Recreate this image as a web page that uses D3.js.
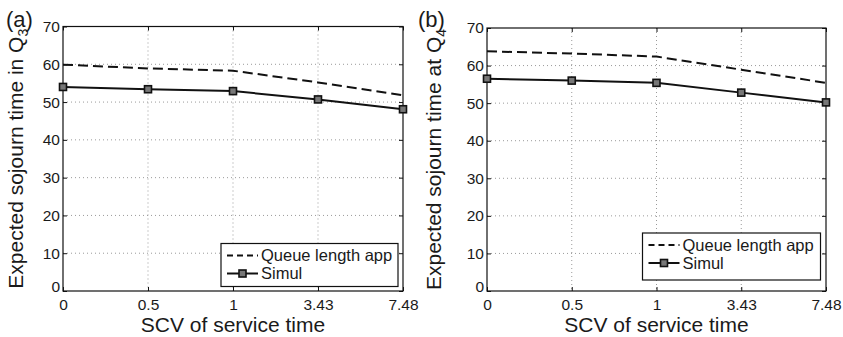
<!DOCTYPE html>
<html>
<head>
<meta charset="utf-8">
<script src="https://cdn.jsdelivr.net/npm/d3@7"></script>
<style>
  body { margin: 0; background: #fff; }
  svg { font-family: "Liberation Sans", Arial, Helvetica, sans-serif; display: block; }
  .grid line { stroke: #9a9a9a; stroke-dasharray: 1,3; stroke-width: 1; }
  .axis path { display: none; }
  .axis line { stroke: #111; }
</style>
</head>
<body>
<div id="chart"></div>
<script>
// categories on x axis (SCV of service time)
const scvLabels = ['0', '0.5', '1', '3.43', '7.48'];
const yTicks = [0, 10, 20, 30, 40, 50, 60, 70];

// panel (a): Q3
const approxA = [59.9, 58.9, 58.3, 55.2, 51.8];
const simulA = [54.0, 53.4, 52.9, 50.7, 48.1];

// panel (b): Q4
const approxB = [63.8, 63.2, 62.4, 58.9, 55.4];
const simulB = [56.5, 56.0, 55.4, 52.8, 50.2];

const seriesNames = ['Queue length app', 'Simul'];

const width = 843, height = 337;
const FONT = '"Liberation Sans", Arial, Helvetica, sans-serif';

const svg = d3.select('#chart').append('svg')
  .attr('width', width)
  .attr('height', height);

// d3 axis puts its own font on the group, take ours instead
function styleAxis(sel) {
  sel.attr('font-family', FONT).attr('font-size', 15.5);
  sel.selectAll('text').attr('fill', '#1a1a1a');
}

function drawPanel(opt) {
  const {left, right, top, bottom} = opt;

  const x = d3.scalePoint().domain(scvLabels).range([left, right]).padding(0);
  const y = d3.scaleLinear().domain([0, 70]).range([bottom, top]);

  const g = svg.append('g');

  // dotted grid
  const grid = g.append('g').attr('class', 'grid');
  grid.selectAll('.gx')
    .data(scvLabels.slice(1, -1))
    .enter().append('line')
    .attr('x1', d => x(d)).attr('x2', d => x(d))
    .attr('y1', top).attr('y2', bottom);
  grid.selectAll('.gy')
    .data(yTicks.slice(1, -1))
    .enter().append('line')
    .attr('x1', left).attr('x2', right)
    .attr('y1', d => y(d)).attr('y2', d => y(d));

  // axes, ticks inside
  g.append('g')
    .attr('class', 'axis')
    .attr('transform', `translate(0,${bottom})`)
    .call(d3.axisBottom(x).tickSize(-4).tickPadding(7.5))
    .call(styleAxis);
  g.append('g')
    .attr('class', 'axis')
    .attr('transform', `translate(0,${top})`)
    .call(d3.axisTop(x).tickSize(-4).tickFormat(''));
  const yAx = g.append('g')
    .attr('class', 'axis')
    .attr('transform', `translate(${left},0)`)
    .call(d3.axisLeft(y).tickValues(yTicks).tickSize(-4).tickPadding(3))
    .call(styleAxis);
  // matlab nudges the 0 label up a bit
  yAx.selectAll('.tick text').filter(d => d === 0).attr('dy', '0.05em');
  g.append('g')
    .attr('class', 'axis')
    .attr('transform', `translate(${right},0)`)
    .call(d3.axisRight(y).tickValues(yTicks).tickSize(-4).tickFormat(''));

  // box
  g.append('rect')
    .attr('x', left).attr('y', top)
    .attr('width', right - left).attr('height', bottom - top)
    .attr('fill', 'none').attr('stroke', '#111').attr('stroke-width', 1.2);

  const line = d3.line().x((d, i) => x(scvLabels[i])).y(d => y(d));

  g.append('path')
    .datum(opt.approx)
    .attr('d', line)
    .attr('fill', 'none')
    .attr('stroke', '#111')
    .attr('stroke-width', 2)
    .attr('stroke-dasharray', '10,5');

  g.append('path')
    .datum(opt.simul)
    .attr('d', line)
    .attr('fill', 'none')
    .attr('stroke', '#111')
    .attr('stroke-width', 2);

  g.selectAll('.mk')
    .data(opt.simul)
    .enter().append('rect')
    .attr('x', (d, i) => x(scvLabels[i]) - 3.5)
    .attr('y', d => y(d) - 3.5)
    .attr('width', 7).attr('height', 7)
    .attr('fill', '#777')
    .attr('stroke', '#111')
    .attr('stroke-width', 1.6);

  // axis labels
  g.append('text')
    .attr('x', (left + right) / 2)
    .attr('y', 332)
    .attr('text-anchor', 'middle')
    .attr('font-size', 21)
    .attr('fill', '#1a1a1a')
    .text('SCV of service time');

  const yl = g.append('text')
    .attr('transform', `translate(${opt.ylabX},${(top + bottom) / 2}) rotate(-90)`)
    .attr('text-anchor', 'middle')
    .attr('font-size', 21)
    .attr('fill', '#1a1a1a');
  yl.append('tspan').text(opt.ylabel);
  yl.append('tspan').attr('font-size', 14).attr('dy', 5).text(opt.sub);

  g.append('text')
    .attr('x', opt.tagX)
    .attr('y', 27)
    .attr('font-size', 22)
    .attr('fill', '#1a1a1a')
    .text(opt.tag);

  // legend
  const lg = g.append('g');
  const L = opt.legend;
  lg.append('rect')
    .attr('x', L.x).attr('y', L.y)
    .attr('width', L.w).attr('height', L.h)
    .attr('fill', '#fff').attr('stroke', '#111').attr('stroke-width', 1.2);
  const rowY = [L.y + 12, L.y + 30];
  lg.append('line')
    .attr('x1', L.x + 6).attr('x2', L.x + 37)
    .attr('y1', rowY[0]).attr('y2', rowY[0])
    .attr('stroke', '#111').attr('stroke-width', 2).attr('stroke-dasharray', '6,4');
  lg.append('line')
    .attr('x1', L.x + 6).attr('x2', L.x + 37)
    .attr('y1', rowY[1]).attr('y2', rowY[1])
    .attr('stroke', '#111').attr('stroke-width', 2);
  lg.append('rect')
    .attr('x', L.x + 21.5 - 3.5).attr('y', rowY[1] - 3.5)
    .attr('width', 7).attr('height', 7)
    .attr('fill', '#777').attr('stroke', '#111').attr('stroke-width', 1.6);
  lg.selectAll('.lt')
    .data(seriesNames)
    .enter().append('text')
    .attr('x', L.x + 40)
    .attr('y', (d, i) => rowY[i])
    .attr('dy', '0.35em')
    .attr('font-size', 16.5)
    .attr('fill', '#1a1a1a')
    .text(d => d);
}

drawPanel({
  left: 63, right: 403, top: 26.5, bottom: 291,
  approx: approxA, simul: simulA,
  ylabel: 'Expected sojourn time in Q', sub: '3',
  ylabX: 23, tag: '(a)', tagX: 6,
  legend: {x: 221, y: 243.5, w: 177, h: 43}
});

drawPanel({
  left: 487, right: 826, top: 28, bottom: 291,
  approx: approxB, simul: simulB,
  ylabel: 'Expected sojourn time at Q', sub: '4',
  ylabX: 441, tag: '(b)', tagX: 418,
  legend: {x: 642.5, y: 233, w: 178, h: 47}
});
</script>
</body>
</html>
